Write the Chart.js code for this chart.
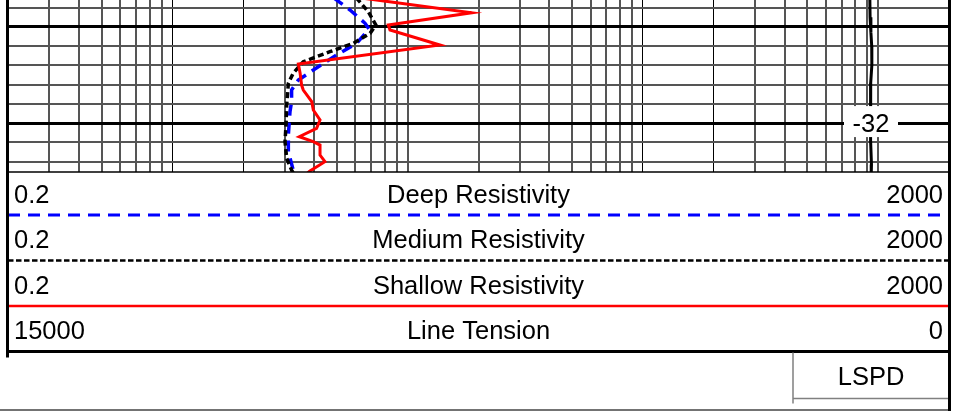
<!DOCTYPE html>
<html>
<head>
<meta charset="utf-8">
<title>Resistivity log</title>
<script src="https://cdn.jsdelivr.net/npm/chart.js@4.4.1/dist/chart.umd.min.js"></script>
<style>
  html, body { margin: 0; padding: 0; background: #fff; }
  canvas { display: block; }
</style>
</head>
<body>
<canvas id="log_chart" width="966" height="412"></canvas>
<script>
// curve readings, elevation top to bottom
const deepDepth = [-19.0, -20.26, -21.64, -22.23, -23.72, -24.93, -26.49, -27.53, -28.57, -29.78, -30.82, -33.24, -34.97, -36.87, -37.4];
const deepRes = [4.85, 5.69, 6.59, 6.85, 6.07, 4.99, 3.97, 3.43, 3.21, 3.21, 3.16, 3.11, 3.11, 3.26, 3.35];

const mediumDepth = [-19.0, -20.43, -21.82, -22.68, -23.72, -24.59, -25.63, -26.83, -27.87, -30.12, -32.2, -33.93, -35.66, -36.87, -37.4];
const mediumRes = [6.05, 6.8, 7.33, 6.92, 5.87, 4.67, 3.6, 3.26, 3.11, 3.06, 3.04, 3.01, 3.06, 3.21, 3.3];

const shallowDepth = [-19.0, -20.54, -21.82, -22.34, -23.89, -25.87, -26.83, -28.05, -28.57, -29.78, -30.64, -31.68, -32.54, -33.42, -33.93, -34.28, -35.32, -36.01, -36.98, -37.3];
const shallowRes = [6.3, 18.7, 8.27, 8.41, 13.7, 3.43, 3.49, 3.54, 3.6, 3.91, 3.97, 4.24, 4.1, 3.46, 3.97, 4.24, 4.24, 4.45, 3.84, 3.7];

const tensionDepth = [-19.0, -21.0, -22.6, -24.0, -26.0, -27.8, -30.3, -33.8, -36.3, -37.4];
const tension = [1262, 1258, 1245, 1232, 1230, 1248, 1250, 1250, 1236, 1240];

// header rows
const trackNames = ["Deep Resistivity", "Medium Resistivity", "Shallow Resistivity", "Line Tension"];
const trackLeft = ["0.2", "0.2", "0.2", "15000"];
const trackRight = ["2000", "2000", "2000", "0"];
const trackColors = ["#0000ff", "#000000", "#ff0000", "#000000"];
const trackDash = [[12, 8], [5.5, 2.5], [], []];
const trackWidth = [3, 2.5, 2.5, 3];

// grid
const resDecades = [0.1, 1, 10, 100, 1000];
const resMultiples = [1, 2, 3, 4, 5, 6, 7, 8, 9];
const darkResTicks = [1, 2, 100, 200];
const depthTicks = [-36, -34, -32, -30, -28, -26, -24, -22, -20];
const majorDepths = [-32, -22];
const depthLabels = [-32];
const depthUnit = "LSPD";

let resTicks = [];
resDecades.forEach((d) => {
  resMultiples.forEach((m) => {
    let v = Number((m * d).toPrecision(3));
    if (v >= 0.2 && v <= 2000) resTicks.push(v);
  });
});

function pts(xs, ys) {
  return xs.map((x, i) => ({ x: x, y: ys[i] }));
}

const FONT = "'Liberation Sans', Arial, sans-serif";

const logFrame = {
  id: "logFrame",
  afterDatasetsDraw(chart) {
    const ctx = chart.ctx;
    const a = chart.chartArea;
    const yS = chart.scales.y;
    ctx.save();
    ctx.font = "25.5px " + FONT;
    ctx.textAlign = "center";
    ctx.textBaseline = "alphabetic";
    depthLabels.forEach((d) => {
      let cy = yS.getPixelForValue(d);
      let cx = a.right - 78;
      ctx.fillStyle = "#fff";
      ctx.fillRect(cx - 27, cy - 17, 54, 31);
      ctx.fillStyle = "#000";
      ctx.fillText(String(d), cx, cy + 9);
    });
    ctx.restore();
  },
  afterDraw(chart) {
    const ctx = chart.ctx;
    const a = chart.chartArea;
    const rowH = 45.5;
    ctx.save();

    // track borders
    ctx.strokeStyle = "#000";
    ctx.lineWidth = 1.5;
    ctx.beginPath();
    ctx.moveTo(a.left, a.bottom);
    ctx.lineTo(a.right, a.bottom);
    ctx.stroke();

    // header rows
    ctx.font = "25.5px " + FONT;
    ctx.fillStyle = "#000";
    trackNames.forEach((name, i) => {
      let lineY = a.bottom + 43 + rowH * i;
      let base = lineY - 12.5;
      ctx.textAlign = "left";
      ctx.fillText(trackLeft[i], a.left + 6, base);
      ctx.textAlign = "center";
      ctx.fillText(name, (a.left + a.right) / 2, base);
      ctx.textAlign = "right";
      ctx.fillText(trackRight[i], a.right - 6, base);

      ctx.strokeStyle = trackColors[i];
      ctx.lineWidth = trackWidth[i];
      ctx.setLineDash(trackDash[i]);
      ctx.beginPath();
      ctx.moveTo(a.left, lineY);
      ctx.lineTo(i === 0 ? a.right - 6 : a.right, lineY);
      ctx.stroke();
    });
    ctx.setLineDash([]);

    let headBottom = a.bottom + 43 + rowH * 3;

    // depth unit box
    ctx.strokeStyle = "#808080";
    ctx.lineWidth = 1.5;
    ctx.beginPath();
    ctx.moveTo(a.right - 156, headBottom + 1);
    ctx.lineTo(a.right - 156, headBottom + 52);
    ctx.moveTo(a.right - 156, headBottom + 47);
    ctx.lineTo(a.right, headBottom + 47);
    ctx.stroke();
    ctx.font = "25.5px " + FONT;
    ctx.textAlign = "center";
    ctx.fillStyle = "#000";
    ctx.fillText(depthUnit, a.right - 78, headBottom + 33);

    ctx.strokeStyle = "#444";
    ctx.lineWidth = 1.5;
    ctx.beginPath();
    ctx.moveTo(0, 410);
    ctx.lineTo(a.right, 410);
    ctx.stroke();

    // side borders
    ctx.strokeStyle = "#000";
    ctx.lineWidth = 3;
    ctx.beginPath();
    ctx.moveTo(a.left - 0.5, 0);
    ctx.lineTo(a.left - 0.5, headBottom + 6);
    ctx.moveTo(a.right + 0.5, 0);
    ctx.lineTo(a.right + 0.5, 411);
    ctx.stroke();
    ctx.restore();
  },
};

const chart = new Chart(document.getElementById("log_chart").getContext("2d"), {
  type: "line",
  data: {
    datasets: [
      {
        label: "Shallow Resistivity",
        data: pts(shallowRes, shallowDepth),
        borderColor: "#ff0000",
        borderWidth: 3,
      },
      {
        label: "Medium Resistivity",
        data: pts(mediumRes, mediumDepth),
        borderColor: "#000000",
        borderWidth: 3.5,
        borderDash: [6, 3.5],
      },
      {
        label: "Deep Resistivity",
        data: pts(deepRes, deepDepth),
        borderColor: "#0000ff",
        borderWidth: 3.5,
        borderDash: [11, 7],
      },
      {
        label: "Line Tension",
        data: pts(tension, tensionDepth),
        xAxisID: "xT",
        borderColor: "#000000",
        borderWidth: 3,
      },
    ],
  },
  options: {
    responsive: false,
    animation: false,
    events: [],
    elements: {
      point: { radius: 0 },
      line: { tension: 0, fill: false },
    },
    layout: {
      padding: { left: 8, right: 17, top: 0, bottom: 240 },
    },
    plugins: {
      legend: { display: false },
      tooltip: { enabled: false },
    },
    scales: {
      x: {
        type: "logarithmic",
        min: 0.2,
        max: 2000,
        afterBuildTicks: (s) => {
          s.ticks = resTicks.map((v) => ({ value: v }));
        },
        ticks: { display: false },
        border: { display: false },
        grid: {
          drawTicks: false,
          color: (c) => (c.tick && darkResTicks.includes(c.tick.value) ? "#000" : "#555"),
          lineWidth: (c) => (c.tick && darkResTicks.includes(c.tick.value) ? 1 : 2),
        },
      },
      xT: {
        type: "linear",
        min: 0,
        max: 15000,
        reverse: true,
        display: false,
      },
      y: {
        type: "linear",
        min: -37.08,
        max: -19.22,
        afterBuildTicks: (s) => {
          s.ticks = depthTicks.map((v) => ({ value: v }));
        },
        ticks: { display: false },
        border: { display: false },
        grid: {
          drawTicks: false,
          color: (c) => (c.tick && majorDepths.includes(c.tick.value) ? "#000" : "#555"),
          lineWidth: (c) => (c.tick && majorDepths.includes(c.tick.value) ? 3 : 2),
        },
      },
    },
  },
  plugins: [logFrame],
});
</script>
</body>
</html>
